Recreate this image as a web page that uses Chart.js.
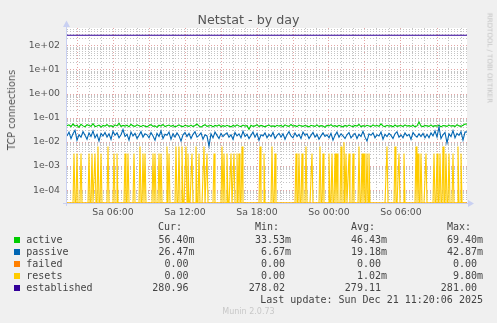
<!DOCTYPE html>
<html><head><meta charset="utf-8">
<script src="https://cdn.jsdelivr.net/npm/chart.js@4/dist/chart.umd.min.js"></script>
<style>
html,body{margin:0;padding:0;background:#F0F0F0;}
#wrap{position:relative;width:497px;height:323px;overflow:hidden;background:#F0F0F0;}
canvas{position:absolute;left:0;top:0;}
.t{position:absolute;white-space:pre;font-family:"DejaVu Sans",sans-serif;color:#555;}
.m{position:absolute;white-space:pre;font-family:"DejaVu Sans Mono",monospace;font-size:10px;line-height:12px;height:12px;color:#444;}
.sq{position:absolute;width:6px;height:6px;}
</style></head><body><div id="wrap"><canvas id="c" width="497" height="323"></canvas></div>
<script>
// ---- data ----
// time axis: hours since Sa 00:00 ; graph spans Sa 02:10 .. So 11:30
const T_START = 2 + 10/60;
const T_END = 35.5;
// active & passive: one value per 10 minutes, in milli-connections
const activeMilli = [
48,52,44,57,46,50,41,55,47,43,53,49,45,58,44,47,51,42,49,46,
54,45,48,43,52,47,61,44,49,46,50,43,55,47,45,52,48,44,50,46,
43,49,53,45,47,41,50,46,54,44,48,51,45,49,43,47,52,46,44,50,
47,45,51,44,49,56,46,42,48,53,45,47,50,43,49,46,52,44,48,45,
50,46,43,49,45,52,47,44,51,46,48,34,50,45,47,53,44,49,46,43,
48,51,45,47,44,50,46,49,43,52,47,45,54,46,48,44,51,47,45,49,
46,43,50,47,45,52,44,48,46,41,49,47,53,45,48,44,50,46,43,49,
45,51,47,44,49,46,55,43,48,45,50,47,44,52,46,49,45,57,47,44,
50,46,48,43,51,45,47,49,44,52,46,48,45,50,43,47,69,46,44,49,
47,45,52,44,48,46,50,43,49,47,45,51,46,48,44,53,47,45,50,56,56.4];
const passiveMilli = [
18,26,14,22,31,12,20,16,27,19,13,24,17,29,15,21,11,23,18,25,
16,22,13,28,19,24,15,20,33,17,21,12,26,18,23,14,19,27,16,22,
20,15,25,18,12,23,17,29,14,21,19,26,13,22,16,24,18,11,20,25,
17,23,14,21,27,16,19,24,13,20,18,6.7,22,15,26,19,14,23,17,21,
24,16,20,13,25,18,22,15,28,17,21,14,19,26,16,23,12,20,18,24,
15,21,17,25,14,19,23,16,22,13,20,27,18,15,24,17,21,14,26,19,
22,14,19,25,16,21,13,18,24,17,20,15,23,12,19,26,16,22,18,14,
20,25,15,19,23,14,21,17,28,16,11,22,19,24,15,20,18,26,13,21,
17,23,19,14,22,27,16,20,15,24,18,21,13,25,19,16,22,17,23,15,
21,15,24,18,29,16,42.9,14,20,25,9,22,17,30,15,23,19,27,12,26,26.47];
// established & failed: one value per 100 minutes
const established = [279.5,280,279,278.5,279,280,279.5,279,278.02,279,280,279.5,279,278.5,279,279.5,280,281,280.5,280,280.96];
const failed = [0,0,0,0,0,0,0,0,0,0,0,0,0,0,0,0,0,0,0,0,0];
// resets: zero except in these 5-minute slots (slot 0 = Sa 02:10), milli-resets
const resetSlots = [7,10,14,22,25,28,31,34,41,47,50,58,61,67,73,76,78,86,88,92,94,100,102,109,112,115,119,121,125,129,132,137,140,147,155,157,160,164,167,170,172,175,193,197,205,208,229,232,235,239,245,253,256,262,265,268,270,274,277,279,282,286,292,295,297,300,302,320,328,332,337,349,351,354,359,367,370,373,376,379,382,386,391,394];
const resetMilli = [3.3,3.3,3.3,3.3,3.3,3.3,6.5,3.3,6.5,3.3,3.3,3.3,3.3,3.3,6.5,3.3,3.3,3.3,3.3,3.3,3.3,6.5,3.3,6.5,6.5,6.5,6.5,3.3,3.3,6.5,3.3,6.5,3.3,3.3,6.5,3.3,3.3,3.3,3.3,3.3,3.3,6.5,6.5,3.3,6.5,3.3,3.3,3.3,3.3,6.5,3.3,6.5,3.3,3.3,3.3,3.3,3.3,6.5,9.8,3.3,3.3,3.3,6.5,3.3,3.3,3.3,3.3,6.5,6.5,3.3,3.3,6.5,3.3,3.3,3.3,3.3,3.3,3.3,6.5,3.3,3.3,3.3,6.5,3.3];
const RESET_SLOTS_TOTAL = 401;

const seriesNames = ['active','passive','failed','resets','established'];
const seriesColors = ['#00CC00','#0066B3','#FF8000','#FFCC00','#330099'];
const curVals = ['56.40m','26.47m','0.00 ','0.00 ','280.96 '];
const minVals = ['33.53m','6.67m','0.00 ','0.00 ','278.02 '];
const avgVals = ['46.43m','19.18m','0.00 ','1.02m','279.11 '];
const maxVals = ['69.40m','42.87m','0.00 ','9.80m','281.00 '];

const xTickHours = [6,12,18,24,30];
const xTickLabels = ['Sa 06:00','Sa 12:00','Sa 18:00','So 00:00','So 06:00'];
const yTickExps = [-4,-3,-2,-1,0,1,2];
const yTickLabels = ['1e-04','1e-03','1e-02','1e-01','1e+00','1e+01','1e+02'];

const Y_MIN = 2.9e-5, Y_MAX = 560;

// ---- build library data ----
const STEP10 = 10/60, STEP5 = 5/60, STEP100 = 100/60;
const activeData = activeMilli.map((v,i)=>({x:T_START+i*STEP10, y:v/1000}));
const passiveData = passiveMilli.map((v,i)=>({x:T_START+i*STEP10, y:v/1000}));
const estData = established.map((v,i)=>({x:T_START+i*STEP100, y:v}));
const failedData = failed.map((v,i)=>({x:T_START+i*STEP100, y:v>0?v:Y_MIN}));
const resetData = [];
for (let s=0;s<RESET_SLOTS_TOTAL;s++){
  const k = resetSlots.indexOf(s);
  const v = k>=0 ? resetMilli[k]/1000 : 0;
  resetData.push({x:T_START+s*STEP5, y:v>0?v:Y_MIN});
}

// ---- HTML texts ----
const wrap = document.getElementById('wrap');
function addDiv(cls, text, style){ const d=document.createElement('div'); d.className=cls; d.textContent=text; Object.assign(d.style, style); wrap.appendChild(d); return d; }
addDiv('t','Netstat - by day',{left:'0px',width:'497px',textAlign:'center',top:'12px',fontSize:'12.7px',lineHeight:'16px',color:'#555'});
addDiv('t','TCP connections',{left:'11.7px',top:'110px',fontSize:'9.8px',lineHeight:'12px',transform:'translate(-50%,-50%) rotate(-90deg)',color:'#555'});
addDiv('t','RRDTOOL / TOBI OETIKER',{left:'488.5px',top:'58px',fontSize:'7px',lineHeight:'9px',transform:'translate(-50%,-50%) rotate(90deg)',color:'#C4C4C4'});
addDiv('t','Munin 2.0.73',{left:'0px',width:'497px',textAlign:'center',top:'306px',fontSize:'8px',lineHeight:'11px',color:'#C8C8C8'});
const hdrLeft = [158,255,351,447], colRight = [194.5,291,387,483];
['Cur:','Min:','Avg:','Max:'].forEach((h,i)=>addDiv('m',h,{left:hdrLeft[i]+'px',top:(227-6)+'px'}));
const rowY = [239.7,251.7,263.7,275.6,287.5];
seriesNames.forEach((n,r)=>{
  const cy = rowY[r];
  const sq = document.createElement('div'); sq.className='sq'; sq.style.left='14px'; sq.style.top=(cy-3)+'px'; sq.style.background=seriesColors[r]; wrap.appendChild(sq);
  addDiv('m',n,{left:'26.3px',top:(cy-6)+'px'});
  [curVals,minVals,avgVals,maxVals].forEach((arr,c)=>addDiv('m',arr[r],{right:(497-colRight[c])+'px',top:(cy-6)+'px',textAlign:'right'}));
});
addDiv('m','Last update: Sun Dec 21 11:20:06 2025',{right:(497-483)+'px',top:(299.5-6)+'px'});

// ---- chart ----
const AXIS_COL = '#C9D0F2';
const GRID_MINOR = 'rgba(190,190,190,0.9)';
const GRID_MAJOR = 'rgba(225,150,150,0.85)';
const muninPlugin = {
  id:'munin',
  beforeDraw(chart){ const {ctx, chartArea:a}=chart; ctx.save(); ctx.fillStyle='#FFFFFF'; ctx.fillRect(a.left,a.top,a.right-a.left,a.bottom-a.top); ctx.restore(); },
  beforeDatasetsDraw(chart){
    const {ctx, chartArea:a}=chart; ctx.save();
    ctx.strokeStyle=AXIS_COL; ctx.fillStyle=AXIS_COL; ctx.lineWidth=1;
    ctx.beginPath(); ctx.moveTo(a.left-0.5, a.bottom+3); ctx.lineTo(a.left-0.5, a.top-4); ctx.stroke();
    ctx.beginPath(); ctx.moveTo(a.left-4, a.bottom+0.5); ctx.lineTo(a.right+3, a.bottom+0.5); ctx.stroke();
    ctx.beginPath(); ctx.moveTo(a.left-4, a.top-1); ctx.lineTo(a.left+3, a.top-1); ctx.lineTo(a.left-0.5, a.top-7.5); ctx.closePath(); ctx.fill();
    ctx.beginPath(); ctx.moveTo(a.right+1, a.bottom-3); ctx.lineTo(a.right+1, a.bottom+4); ctx.lineTo(a.right+7, a.bottom+0.5); ctx.closePath(); ctx.fill();
    ctx.restore();
  }
};
function isDecade(v){ const l=Math.log10(v); return Math.abs(l-Math.round(l))<1e-9; }
const ds = (label, data, color, order) => ({label, data, borderColor:color, backgroundColor:color, borderWidth:1.1, pointRadius:0, tension:0, fill:false, order});
new Chart(document.getElementById('c'), {
  type:'line',
  data:{datasets:[
    ds(seriesNames[0], activeData, seriesColors[0], 5),
    ds(seriesNames[1], passiveData, seriesColors[1], 4),
    ds(seriesNames[2], failedData, seriesColors[2], 3),
    ds(seriesNames[3], resetData, seriesColors[3], 2),
    ds(seriesNames[4], estData, seriesColors[4], 1)
  ]},
  options:{
    responsive:false, animation:false, devicePixelRatio:1,
    layout:{padding:{left:0, top:28, right:30, bottom:100}},
    plugins:{legend:{display:false}, title:{display:false}, tooltip:{enabled:false}},
    scales:{
      x:{type:'linear', min:T_START, max:T_END, bounds:'data',
        afterFit(s){ s.height=20; },
        afterBuildTicks(s){ const t=[]; for(let h=3;h<=35;h++) t.push({value:h}); s.ticks=t; },
        ticks:{autoSkip:false, maxRotation:0, padding:4, color:'#555', font:{family:'DejaVu Sans', size:9.33},
          callback(v){ const k=xTickHours.indexOf(v); return k>=0?xTickLabels[k]:''; }},
        grid:{drawTicks:false, lineWidth:1, color(ctx){ const v=ctx.tick&&ctx.tick.value; return (v%3===0)?GRID_MAJOR:GRID_MINOR; }},
        border:{display:false, dash:[1,2]}
      },
      y:{type:'logarithmic', min:Y_MIN, max:Y_MAX, bounds:'data',
        afterFit(s){ s.width=67; },
        afterBuildTicks(s){ const t=[]; for(let e=-5;e<=2;e++){ for(let k=1;k<=9;k++){ const v=k*Math.pow(10,e); if(v>Y_MIN && v<Y_MAX) t.push({value:v}); } } s.ticks=t; },
        ticks:{autoSkip:false, padding:7, color:'#555', font:{family:'DejaVu Sans', size:9.33},
          callback(v){ if(!isDecade(v)) return ''; const k=yTickExps.indexOf(Math.round(Math.log10(v))); return k>=0?yTickLabels[k]:''; }},
        grid:{drawTicks:false, lineWidth:1, color(ctx){ const v=ctx.tick&&ctx.tick.value; return (v&&isDecade(v))?GRID_MAJOR:GRID_MINOR; }},
        border:{display:false, dash:[1,2]}
      }
    }
  },
  plugins:[muninPlugin]
});
</script>
</body></html>
